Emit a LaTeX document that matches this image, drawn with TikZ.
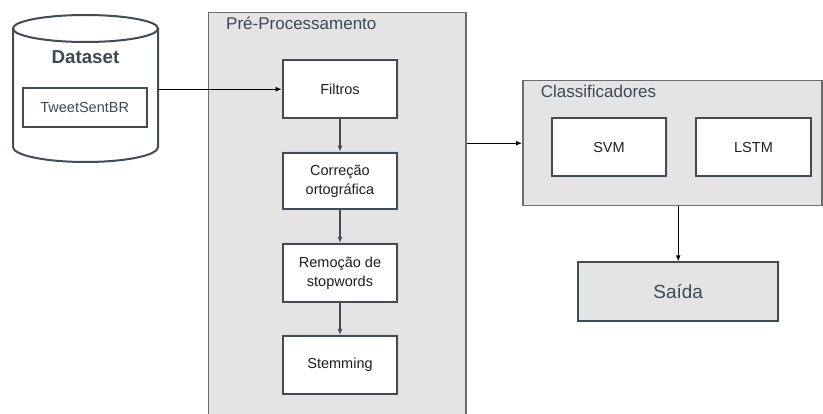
\documentclass[tikz,border=0pt]{standalone}
\usepackage{fontspec}
\setmainfont{Liberation Sans}
\usetikzlibrary{arrows.meta,shadows}
\definecolor{boxline}{HTML}{434B55}
\definecolor{contline}{HTML}{6A6D71}
\definecolor{contfill}{HTML}{E4E4E4}
\definecolor{slate}{HTML}{3D4858}
\definecolor{bodytxt}{HTML}{1E1E1E}
\tikzset{
  cont/.style={draw=contline, line width=1.5pt, fill=contfill, inner sep=0pt},
  stepbox/.style={draw=boxline, line width=2pt, fill=white, inner sep=0pt,
    align=center, text=bodytxt, font=\fontsize{14.5}{19}\selectfont,
    drop shadow={opacity=0.12, shadow xshift=1.5pt, shadow yshift=1.5pt}},
  contlabel/.style={anchor=west, inner sep=0pt, text=slate, font=\fontsize{17}{20}\selectfont},
  conn/.style={draw=black, line width=1pt, -{Latex[length=6pt,width=5pt]}},
  innerconn/.style={draw=boxline, line width=1.4pt, -{Latex[length=6pt,width=5pt]}},
}
\begin{document}
\begin{tikzpicture}[x=1pt, y=-1pt]
\useasboundingbox (0,0) rectangle (823,414);
\clip (0,0) rectangle (823,414);
\fill[white] (0,0) rectangle (823,414);

% Dataset cylinder
\fill[white] (13,28.5) -- (13,147) arc[start angle=180, end angle=0, x radius=72.5, y radius=15] -- (158,28.5) -- cycle;
\draw[boxline, line width=2pt] (13,28.5) -- (13,147) arc[start angle=180, end angle=0, x radius=72.5, y radius=15] -- (158,28.5);
\draw[boxline, line width=2pt, fill=white] (85.5,28.5) ellipse [x radius=72.5, y radius=13.5];
\node[minimum width=145pt, minimum height=147pt, inner sep=0pt] (ds) at (85.5,88.5) {};
\node[text=slate, font=\bfseries\fontsize{18.7}{22}\selectfont, inner sep=0pt] (dslabel) at (85.5,57) {Dataset};
\node[draw=boxline, line width=2pt, fill=white, minimum width=124pt, minimum height=39pt, inner sep=0pt,
  text=slate, font=\fontsize{14.5}{18}\selectfont] (tweet) at (84.7,107.2) {TweetSentBR};

% Pre-processamento container
\node[cont, minimum width=257.7pt, minimum height=430pt] (pre) at (337.2,227.7) {};
\node[contlabel] (prelabel) at (226,23) {Pré-Processamento};

\node[stepbox, minimum width=114.6pt, minimum height=58.3pt] (filtros) at (340,89.2) {Filtros};
\node[stepbox, minimum width=114.6pt, minimum height=56.6pt] (corr) at (340,181) {Correção\\ortográfica};
\node[stepbox, minimum width=114.6pt, minimum height=58pt] (rem) at (340,273) {Remoção de\\stopwords};
\node[stepbox, minimum width=114.6pt, minimum height=58pt] (stem) at (340,365) {Stemming};

\draw[innerconn] (filtros) -- (corr);
\draw[innerconn] (corr) -- (rem);
\draw[innerconn] (rem) -- (stem);

% Classificadores container
\node[cont, minimum width=299.3pt, minimum height=125pt] (clas) at (672.4,143.2) {};
\node[contlabel] (claslabel) at (540.7,91) {Classificadores};
\node[stepbox, minimum width=114.6pt, minimum height=57.7pt] (svm) at (609,147.2) {SVM};
\node[stepbox, minimum width=114.6pt, minimum height=57.7pt] (lstm) at (753.5,147.2) {LSTM};

% Saida
\node[draw=boxline, line width=2pt, fill=contfill, minimum width=199.7pt, minimum height=58.4pt, inner sep=0pt,
  text=slate, font=\fontsize{19}{22}\selectfont,
  drop shadow={opacity=0.12, shadow xshift=1.5pt, shadow yshift=1.5pt}] (saida) at (678.2,291.5) {Saída};

% connectors
\draw[conn] (ds.east |- filtros.west) -- (filtros.west);
\draw[conn] (pre.east |- clas.west) -- (clas.west);
\draw[conn] (clas.south -| saida.north) -- (saida.north);
\end{tikzpicture}
\end{document}
